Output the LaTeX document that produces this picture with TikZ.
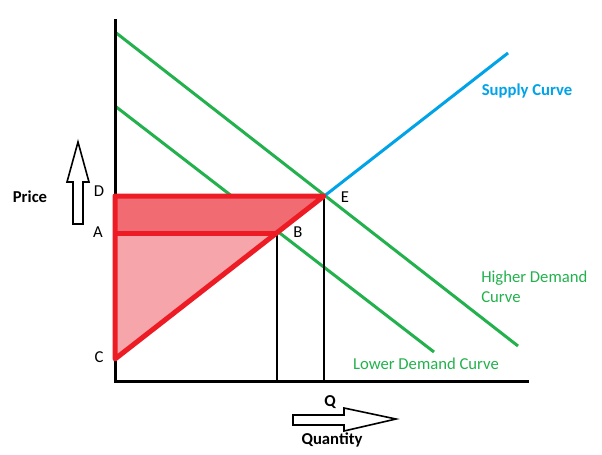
\documentclass[tikz,border=0pt]{standalone}
\usepackage{fontspec}
\setmainfont{Carlito}
\definecolor{demgreen}{RGB}{34,177,76}
\definecolor{supblue}{RGB}{0,162,232}
\definecolor{surred}{RGB}{237,28,36}
\definecolor{darkfill}{RGB}{241,107,115}
\definecolor{lightfill}{RGB}{246,166,170}
\begin{document}
\begin{tikzpicture}[x=0.75pt,y=0.75pt,yscale=-1,xscale=1,
	lbl/.style={inner sep=0.75pt,font=\fontsize{12.5}{15}\selectfont},
	boldlbl/.style={lbl,font=\fontsize{12.5}{15}\selectfont\bfseries},
	axisline/.style={line width=2.25pt},
	demandline/.style={color=demgreen,line width=2.25pt},
	supplyline/.style={color=supblue,line width=2.25pt},
	surplusline/.style={color=surred,line width=3.75pt,line join=round},
	dropline/.style={line width=1.5pt},
	bigarrow/.style={line width=1.2pt,fill=white}]
			\useasboundingbox (0,0) rectangle (602,454);
			%Points
			\coordinate (O) at (115,381);
			\coordinate (ytop) at (115,19);
			\coordinate (xend) at (529,381);
			\coordinate (D) at (115,196);
			\coordinate (A) at (115,233);
			\coordinate (C) at (115,359);
			\coordinate (E) at (324,196);
			\coordinate (B) at (277,233);
			\coordinate (hdstart) at (115,32);
			\coordinate (hdend) at (518,346);
			\coordinate (ldstart) at (115,106);
			\coordinate (ldend) at (434,352);
			\coordinate (supend) at (508,53);

			%Demand and supply lines
			\draw [demandline] (hdstart) -- (hdend) ;
			\draw [demandline] (ldstart) -- (ldend) ;
			\draw [supplyline] (C) -- (supend) ;
			%Drop lines
			\draw [dropline] (B) -- (B |- O) ;
			\draw [dropline] (E) -- (E |- O) ;
			%Axes
			\draw [axisline] (ytop) -- (O) -- (xend) ;
			%Surplus areas
			\fill [darkfill] (D) -- (E) -- (B) -- (A) -- cycle ;
			\fill [lightfill] (A) -- (B) -- (C) -- cycle ;
			\draw [surplusline] (C) -- (D) -- (E) -- cycle ;
			\draw [surplusline] (A) -- (B) ;
			%Block arrows
			\draw [bigarrow] (73,224) -- (73,182) -- (67,182) -- (78,142) -- (89,182) -- (83,182) -- (83,224) -- cycle ;
			\draw [bigarrow] (293,415) -- (344,415) -- (344,408) -- (396,419) -- (344,431) -- (344,425) -- (293,425) -- cycle ;

			% Text Node
			\node [boldlbl] (price) at (30,197) {Price};
			% Text Node
			\node [lbl] (lblD) at (99,191) {D};
			% Text Node
			\node [lbl] (lblA) at (98,232) {A};
			% Text Node
			\node [lbl] (lblC) at (99,357) {C};
			% Text Node
			\node [lbl] (lblB) at (298,232) {B};
			% Text Node
			\node [lbl] (lblE) at (345,197) {E};
			% Text Node
			\node [boldlbl] (lblQ) at (330,402) {Q};
			% Text Node
			\node [boldlbl] (quantity) at (332,440) {Quantity};
			% Text Node
			\node [boldlbl,color=supblue] (supply) at (527,91) {Supply Curve};
			% Text Node
			\node [lbl,color=demgreen,align=left,anchor=west] (higher) at (480,287) {Higher Demand\\Curve};
			% Text Node
			\node [lbl,color=demgreen] (lower) at (426,364) {Lower Demand Curve};
\end{tikzpicture}
\end{document}
